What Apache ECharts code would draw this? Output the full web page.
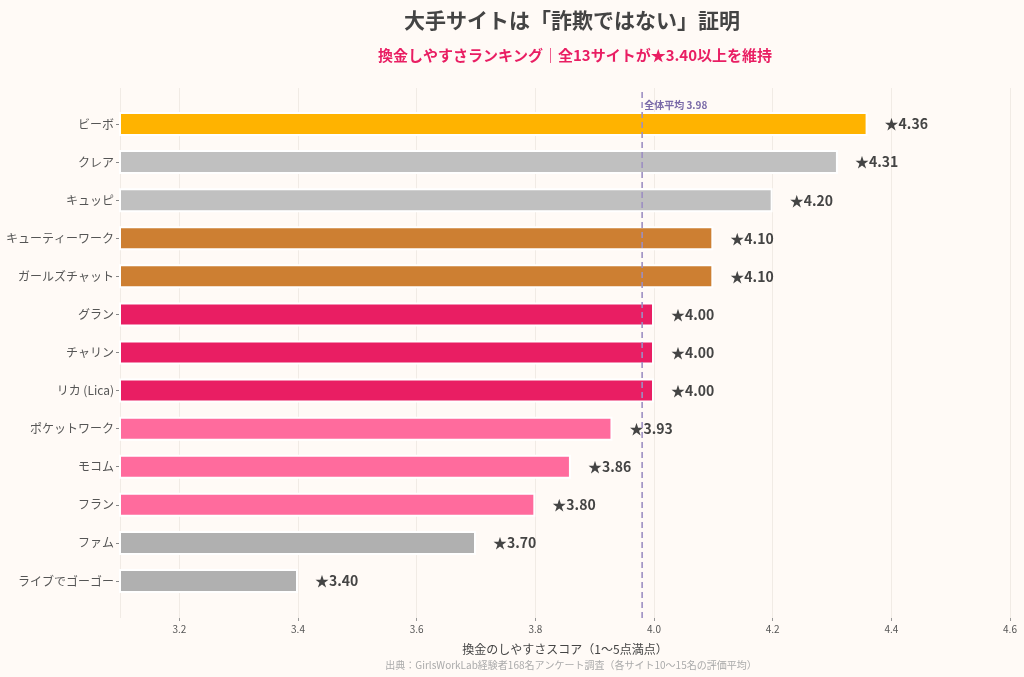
<!DOCTYPE html>
<html>
<head>
<meta charset="utf-8">
<script src="https://cdn.jsdelivr.net/npm/echarts@6/dist/echarts.min.js"></script>
<style>
html, body { margin: 0; padding: 0; background: #fffaf6; }
#chart { width: 1024px; height: 677px; }
</style>
</head>
<body>
<div id="chart"></div>
<script>
// サイト別 換金しやすさスコア
var sites = ['ビーボ', 'クレア', 'キュッピ', 'キューティーワーク', 'ガールズチャット', 'グラン',
    'チャリン', 'リカ (Lica)', 'ポケットワーク', 'モコム', 'フラン', 'ファム', 'ライブでゴーゴー'];
var scores = [4.36, 4.31, 4.20, 4.10, 4.10, 4.00, 4.00, 4.00, 3.93, 3.86, 3.80, 3.70, 3.40];
var average = 3.98;
var xMin = 3.1;
var xMax = 4.6;

// 順位ごとの色
var barColors = ['#ffb300', '#c0c0c0', '#c0c0c0', '#cd7f32', '#cd7f32', '#e91e63', '#e91e63',
    '#e91e63', '#ff6b9d', '#ff6b9d', '#ff6b9d', '#b0b0b0', '#b0b0b0'];

var font = '"Noto Sans CJK JP", "Noto Sans", sans-serif';

function paint() {
    var myChart = echarts.init(document.getElementById('chart'));
    var barData = [];
    for (var i = 0; i < scores.length; i++) {
        barData.push({ value : scores[i], itemStyle : { color : barColors[i] } });
    }
    var option = {
        backgroundColor : '#fffaf6',
        textStyle : { fontFamily : font },
        title : [ {
            text : '大手サイトは「詐欺ではない」証明',
            left : 567,
            textAlign : 'center',
            top : 5,
            textStyle : { fontSize : 21, fontWeight : 'bold', color : '#444444', fontFamily : font }
        }, {
            text : '換金しやすさランキング｜全13サイトが★3.40以上を維持',
            left : 570,
            textAlign : 'center',
            top : 43,
            textStyle : { fontSize : 15, fontWeight : 'bold', color : '#e91e63', fontFamily : font }
        }, {
            text : '出典：GirlsWorkLab経験者168名アンケート調査（各サイト10〜15名の評価平均）',
            left : 566,
            textAlign : 'center',
            top : 655,
            textStyle : { fontSize : 10, fontWeight : 'normal', color : '#aaaaaa', fontFamily : font }
        } ],
        grid : [ {
            left : 120, right : 14, top : 88, bottom : 59
        }, {
            left : 120, right : 14, top : 105, bottom : 77
        } ],
        xAxis : [ {
            type : 'value',
            gridIndex : 0,
            min : xMin,
            max : xMax,
            splitNumber : 8,
            name : '換金のしやすさスコア（1〜5点満点）',
            nameLocation : 'middle',
            nameGap : 25,
            nameTextStyle : { fontSize : 12, color : '#444444', fontFamily : font },
            axisLine : { show : false },
            axisTick : { show : true, length : 3, lineStyle : { color : '#999999' } },
            axisLabel : {
                fontSize : 10, color : '#555555', margin : 6, showMinLabel : false,
                formatter : function(v) { return v.toFixed(1); }
            },
            splitLine : { show : true, lineStyle : { color : '#f1ebe5', width : 1 } }
        }, {
            type : 'value',
            gridIndex : 1,
            min : xMin,
            max : xMax,
            show : false,
            splitLine : { show : false }
        } ],
        yAxis : [ {
            type : 'value',
            gridIndex : 0,
            min : 0,
            max : 1,
            show : false
        }, {
            type : 'category',
            gridIndex : 1,
            data : sites,
            inverse : true,
            axisLine : { show : false },
            axisTick : { show : true, length : 4, alignWithLabel : true, lineStyle : { color : '#888888' } },
            axisLabel : { fontSize : 12, color : '#555555', margin : 6 },
            splitLine : { show : false }
        } ],
        series : [ {
            type : 'bar',
            xAxisIndex : 1,
            yAxisIndex : 1,
            data : barData,
            barWidth : 24,
            clip : true,
            itemStyle : { borderColor : '#ffffff', borderWidth : 2 },
            label : {
                show : true,
                position : 'right',
                distance : 17,
                fontSize : 14,
                fontWeight : 'bold',
                color : '#444444',
                fontFamily : font,
                formatter : function(p) {
                    return '★' + p.value.toFixed(2);
                }
            },
            z : 2
        }, {
            type : 'line',
            xAxisIndex : 0,
            yAxisIndex : 0,
            data : [ [ average, 0 ], [ average, 1 ] ],
            symbol : 'none',
            silent : true,
            lineStyle : { type : [ 6, 4 ], color : '#9d8fc2', width : 1.6 },
            markPoint : {
                symbol : 'circle',
                symbolSize : 0,
                data : [ { coord : [ average, 1 ] } ],
                label : {
                    show : true,
                    position : 'right',
                    distance : 2,
                    offset : [ 0, 17 ],
                    formatter : '全体平均 ' + average.toFixed(2),
                    fontSize : 10,
                    fontWeight : 'bold',
                    color : '#7a6aa8',
                    fontFamily : font
                }
            },
            z : 3
        } ]
    };
    myChart.setOption(option);
}
paint();
</script>
</body>
</html>
